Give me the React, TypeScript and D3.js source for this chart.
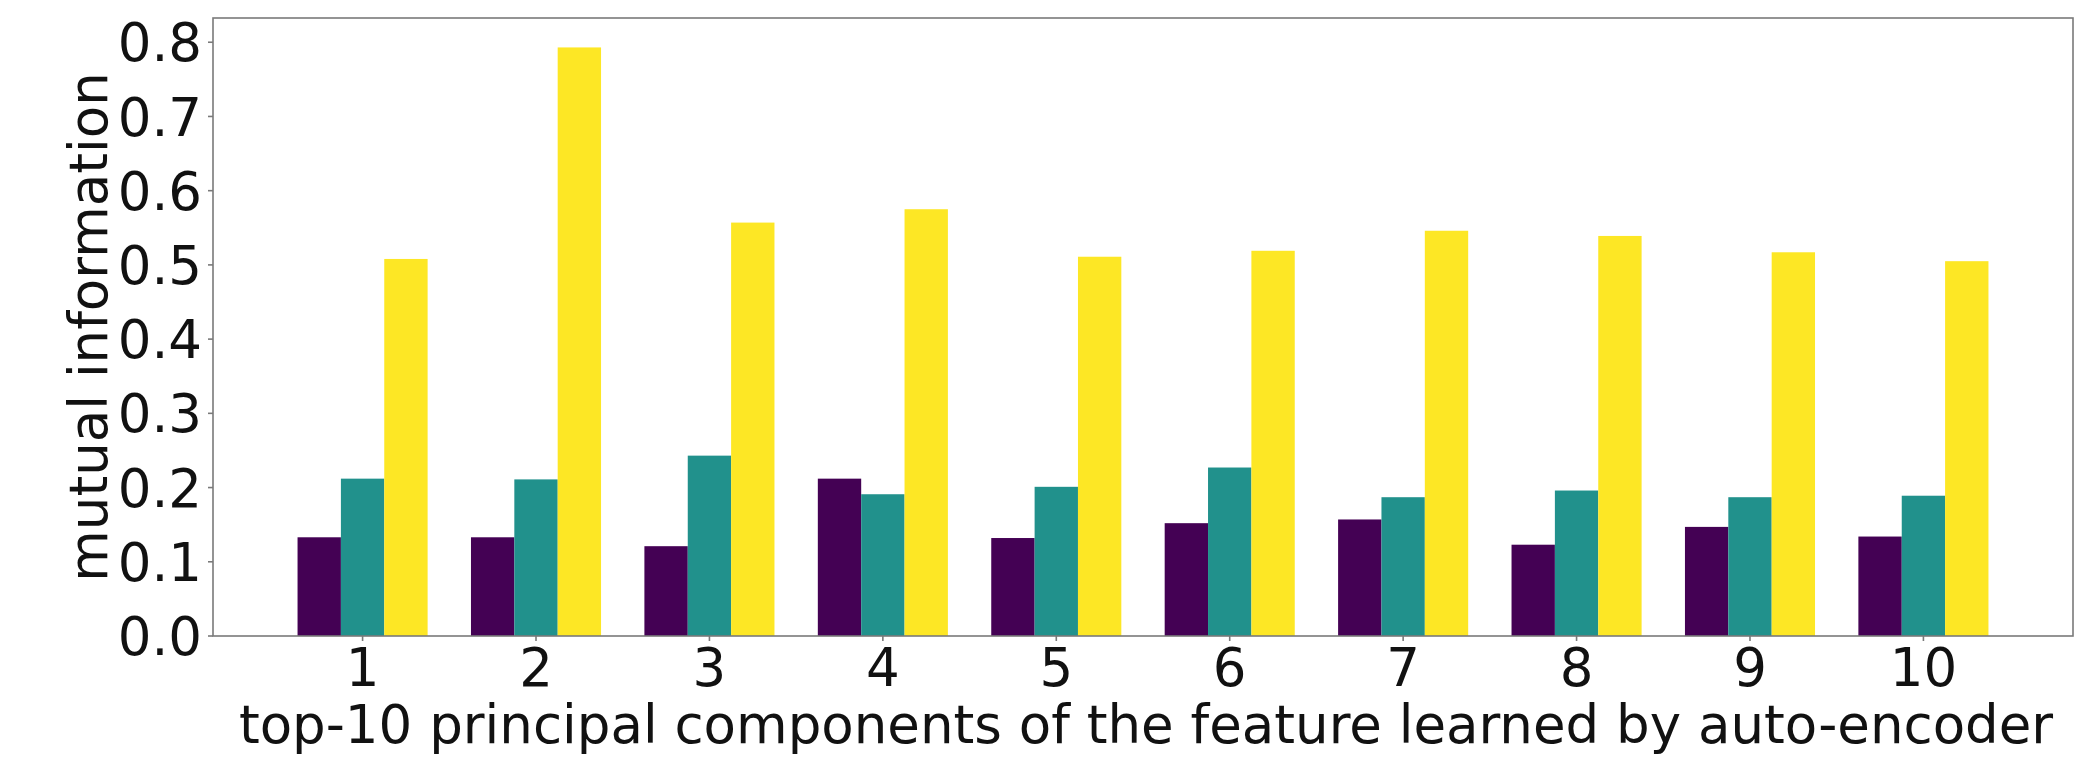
import React from "react";
import * as d3 from "d3";

const categories = [1, 2, 3, 4, 5, 6, 7, 8, 9, 10];
const seriesA = [0.133, 0.133, 0.121, 0.212, 0.132, 0.152, 0.157, 0.123, 0.147, 0.134];
const seriesB = [0.212, 0.211, 0.243, 0.191, 0.201, 0.227, 0.187, 0.196, 0.187, 0.189];
const seriesC = [0.508, 0.793, 0.557, 0.575, 0.511, 0.519, 0.546, 0.539, 0.517, 0.505];
const seriesColors = ["#440154", "#21918c", "#fde725"];
const yTicks = [0, 0.1, 0.2, 0.3, 0.4, 0.5, 0.6, 0.7, 0.8];
const xLabel = "top-10 principal components of the feature learned by auto-encoder";
const yLabel = "mutual information";

const W = 2075;
const H = 764;
const plot = { left: 213, right: 2073, top: 18, bottom: 636 };
const FONT = "'DejaVu Sans', sans-serif";
const FS = 53;

export default function App() {
  const barW = 0.25;
  const series = [seriesA, seriesB, seriesC];
  const xMin = categories[0] - 1.5 * barW;
  const xMax = categories[categories.length - 1] + 1.5 * barW;
  const pad = (xMax - xMin) * 0.05;
  const x = d3.scaleLinear().domain([xMin - pad, xMax + pad]).range([plot.left, plot.right]);
  const yMax = d3.max(series.flat())! * 1.05;
  const y = d3.scaleLinear().domain([0, yMax]).range([plot.bottom, plot.top]);
  const bw = x(barW) - x(0);
  const axisColor = "#7a7a7a";

  return (
    <div style={{ position: "fixed", left: 0, top: 0 }}>
      <svg width={W} height={H} style={{ display: "block", background: "#fff" }}>
        {series.map((vals, si) =>
          vals.map((v, i) => {
            const cx = x(categories[i] + (si - 1) * barW);
            return (
              <rect
                key={`${si}-${i}`}
                x={cx - bw / 2}
                y={y(v)}
                width={bw}
                height={y(0) - y(v)}
                fill={seriesColors[si]}
              />
            );
          })
        )}
        <rect
          x={plot.left}
          y={plot.top}
          width={plot.right - plot.left}
          height={plot.bottom - plot.top}
          fill="none"
          stroke={axisColor}
          strokeWidth={1.6}
        />
        {yTicks.map((t) => (
          <g key={t}>
            <line x1={plot.left - 5} x2={plot.left} y1={y(t)} y2={y(t)} stroke={axisColor} strokeWidth={1.6} />
            <text
              x={plot.left - 11}
              y={y(t)}
              dy="0.36em"
              textAnchor="end"
              fontFamily={FONT}
              fontSize={FS}
              fill="#111"
            >
              {t.toFixed(1)}
            </text>
          </g>
        ))}
        {categories.map((c) => (
          <g key={c}>
            <line x1={x(c)} x2={x(c)} y1={plot.bottom} y2={plot.bottom + 5} stroke={axisColor} strokeWidth={1.6} />
            <text x={x(c)} y={686} textAnchor="middle" fontFamily={FONT} fontSize={FS} fill="#111">
              {c}
            </text>
          </g>
        ))}
        <text
          x={(plot.left + plot.right) / 2 + 3}
          y={743}
          textAnchor="middle"
          fontFamily={FONT}
          fontSize={FS}
          fill="#111"
        >
          {xLabel}
        </text>
        <text
          transform={`translate(${107},${(plot.top + plot.bottom) / 2}) rotate(-90)`}
          textAnchor="middle"
          fontFamily={FONT}
          fontSize={FS}
          fill="#111"
        >
          {yLabel}
        </text>
      </svg>
    </div>
  );
}
